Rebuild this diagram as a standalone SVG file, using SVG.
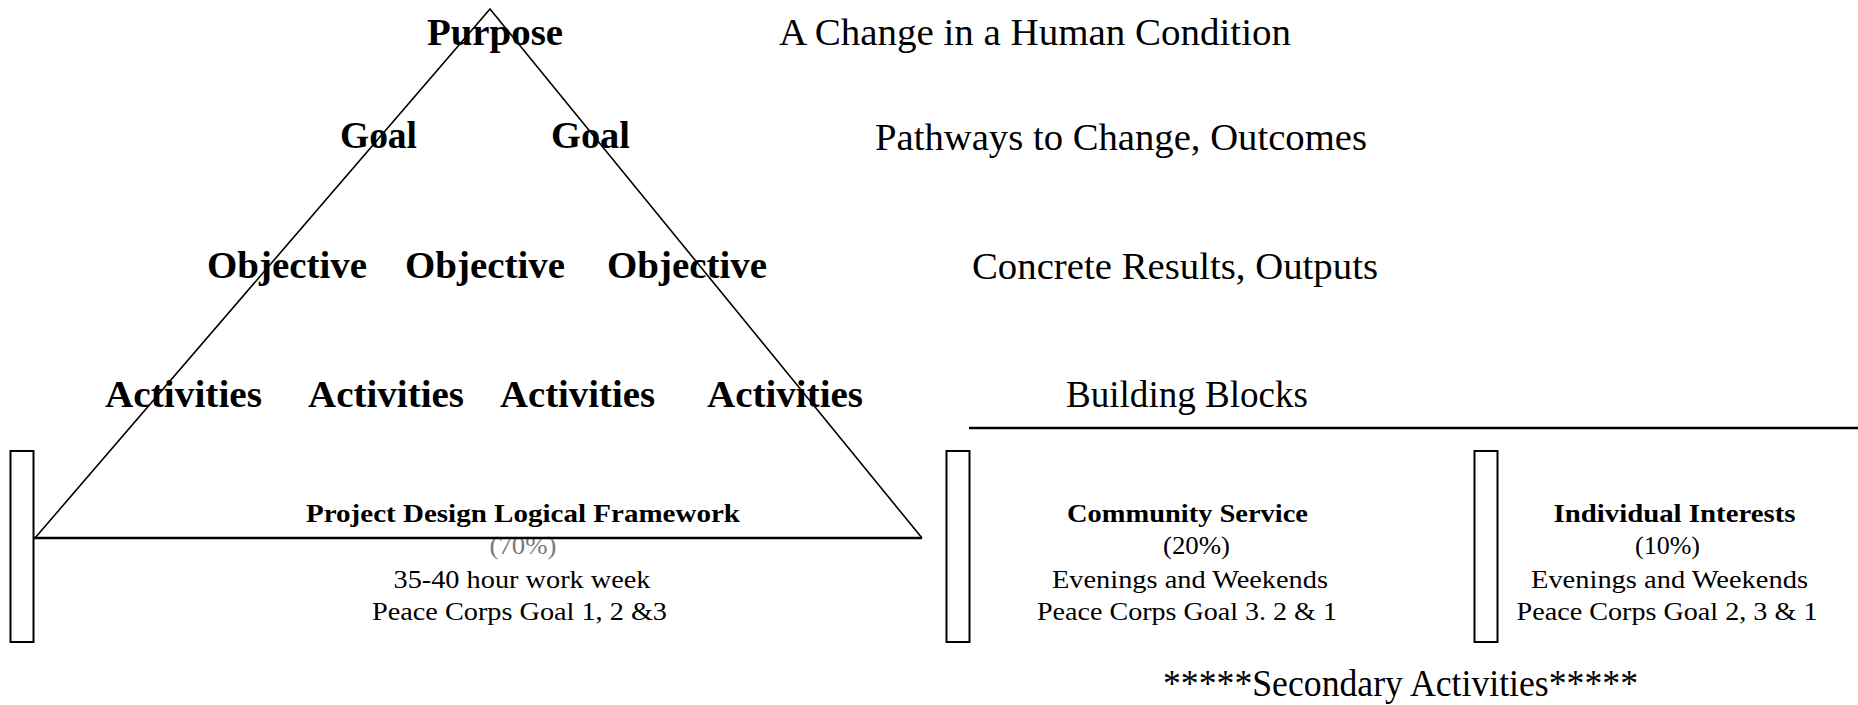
<svg xmlns="http://www.w3.org/2000/svg" width="1858" height="705" viewBox="0 0 1858 705">
  <style>
    text { font-family: "Liberation Serif", "Times New Roman", serif; fill: #000; }
    .lvl { font-size: 37px; font-weight: bold; }
    .desc { font-size: 37px; }
    .head { font-size: 26px; font-weight: bold; text-anchor: middle; }
    .sub { font-size: 26px; text-anchor: middle; }
    .dim { fill: #7a7a7a; }
    .edge { stroke: #000; stroke-width: 1.6; fill: none; }
    .bar { stroke: #000; stroke-width: 2; fill: #fff; }
  </style>
  <rect width="1858" height="705" fill="#fff"/>

  <!-- pyramid levels -->
  <g id="purpose">
    <text class="lvl" x="427" y="45" textLength="136" lengthAdjust="spacingAndGlyphs">Purpose</text>
  </g>
  <g id="goals">
    <text class="lvl" x="340" y="148" textLength="77" lengthAdjust="spacingAndGlyphs">Goal</text>
    <text class="lvl" x="551" y="148" textLength="79" lengthAdjust="spacingAndGlyphs">Goal</text>
  </g>
  <g id="objectives">
    <text class="lvl" x="207" y="278" textLength="160" lengthAdjust="spacingAndGlyphs">Objective</text>
    <text class="lvl" x="405" y="278" textLength="160" lengthAdjust="spacingAndGlyphs">Objective</text>
    <text class="lvl" x="607" y="278" textLength="160" lengthAdjust="spacingAndGlyphs">Objective</text>
  </g>
  <g id="activities">
    <text class="lvl" x="105" y="407" textLength="157" lengthAdjust="spacingAndGlyphs">Activities</text>
    <text class="lvl" x="308" y="407" textLength="156" lengthAdjust="spacingAndGlyphs">Activities</text>
    <text class="lvl" x="500" y="407" textLength="155" lengthAdjust="spacingAndGlyphs">Activities</text>
    <text class="lvl" x="707" y="407" textLength="156" lengthAdjust="spacingAndGlyphs">Activities</text>
  </g>

  <!-- level descriptions -->
  <g id="descriptions">
    <text class="desc" x="779" y="45" textLength="512" lengthAdjust="spacingAndGlyphs">A Change in a Human Condition</text>
    <text class="desc" x="875" y="150" textLength="492" lengthAdjust="spacingAndGlyphs">Pathways to Change, Outcomes</text>
    <text class="desc" x="972" y="279" textLength="406" lengthAdjust="spacingAndGlyphs">Concrete Results, Outputs</text>
    <text class="desc" x="1066" y="407" textLength="242" lengthAdjust="spacingAndGlyphs">Building Blocks</text>
  </g>

  <!-- time blocks -->
  <g id="block-framework">
    <rect class="bar" x="10.5" y="451" width="23" height="191"/>
    <text class="head" x="523" y="522" textLength="434" lengthAdjust="spacingAndGlyphs">Project Design Logical Framework</text>
    <text class="sub dim" x="523" y="554" textLength="67" lengthAdjust="spacingAndGlyphs">(70%)</text>
    <text class="sub" x="522" y="588" textLength="257" lengthAdjust="spacingAndGlyphs">35-40 hour work week</text>
    <text class="sub" x="519.5" y="620" textLength="295" lengthAdjust="spacingAndGlyphs">Peace Corps Goal 1, 2 &amp;3</text>
  </g>
  <g id="block-community">
    <rect class="bar" x="946.5" y="451" width="23" height="191"/>
    <text class="head" x="1187.5" y="522" textLength="241" lengthAdjust="spacingAndGlyphs">Community Service</text>
    <text class="sub" x="1196.5" y="554" textLength="67" lengthAdjust="spacingAndGlyphs">(20%)</text>
    <text class="sub" x="1190" y="588" textLength="276" lengthAdjust="spacingAndGlyphs">Evenings and Weekends</text>
    <text class="sub" x="1187" y="620" textLength="300" lengthAdjust="spacingAndGlyphs">Peace Corps Goal 3. 2 &amp; 1</text>
  </g>
  <g id="block-interests">
    <rect class="bar" x="1474.5" y="451" width="23" height="191"/>
    <text class="head" x="1674.5" y="522" textLength="242" lengthAdjust="spacingAndGlyphs">Individual Interests</text>
    <text class="sub" x="1667.5" y="554" textLength="65" lengthAdjust="spacingAndGlyphs">(10%)</text>
    <text class="sub" x="1669.5" y="588" textLength="277" lengthAdjust="spacingAndGlyphs">Evenings and Weekends</text>
    <text class="sub" x="1667" y="620" textLength="301" lengthAdjust="spacingAndGlyphs">Peace Corps Goal 2, 3 &amp; 1</text>
  </g>
  <g id="secondary">
    <text class="desc" x="1163" y="696" font-size="35" textLength="475" lengthAdjust="spacingAndGlyphs">*****Secondary Activities*****</text>
  </g>

  <!-- pyramid outline and divider rule -->
  <g id="connectors">
    <path class="edge" d="M35 538 L490 9 L922 538"/>
    <line x1="34" y1="538" x2="922" y2="538" stroke="#000" stroke-width="2.6"/>
    <line x1="969" y1="428" x2="1858" y2="428" stroke="#000" stroke-width="2.6"/>
  </g>
</svg>
